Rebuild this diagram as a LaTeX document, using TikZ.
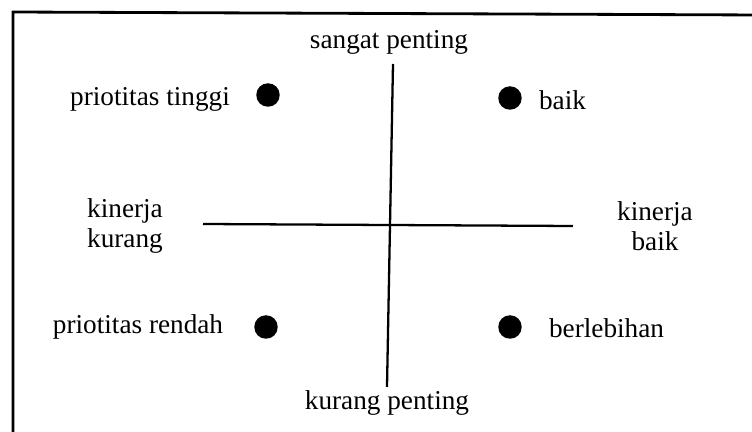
\documentclass[tikz,border=0pt]{standalone}
\usepackage{fontspec}
\setmainfont{Liberation Serif}
\usetikzlibrary{positioning}

\begin{document}
\begin{tikzpicture}[x=0.02cm, y=-0.02cm,
    lbl/.style={font=\fontsize{15.5}{17}\selectfont, inner sep=1pt, align=center},
    dot/.style={circle, fill=black, minimum size=0.47cm, inner sep=0pt}]
    \useasboundingbox (0,0) rectangle (752,432);
    \clip (0,0) rectangle (752,432);
    \coordinate (T) at (393,64);
    \coordinate (U) at (387,387);
    \coordinate (L) at (203,224);
    \coordinate (R) at (573,226);
    \draw[line width=1.6pt] (13,445) -- (13,12) -- (760,15);
    \draw[line width=1.3pt] (T) -- (U);
    \draw[line width=1.3pt] (L) -- (R);
    \node[dot] (d1) at (268,95) {};
    \node[dot] (d2) at (510,98) {};
    \node[dot] (d3) at (266,327) {};
    \node[dot] (d4) at (510,327) {};
    \node[lbl] (sp) at (389,42) {sangat penting};
    \node[lbl] (kp) at (387,403) {kurang penting};
    \node[lbl] (kk) at (125,226) {kinerja\\kurang};
    \node[lbl] (kb) at (655,226) {kinerja\\baik};
    \node[lbl] (pt) at (150,99) {priotitas tinggi};
    \node[lbl, anchor=west] (bk) at (537,100) {baik};
    \node[lbl] (pr) at (138,327) {priotitas rendah};
    \node[lbl, anchor=west] (bl) at (547,328) {berlebihan};
\end{tikzpicture}
\end{document}
